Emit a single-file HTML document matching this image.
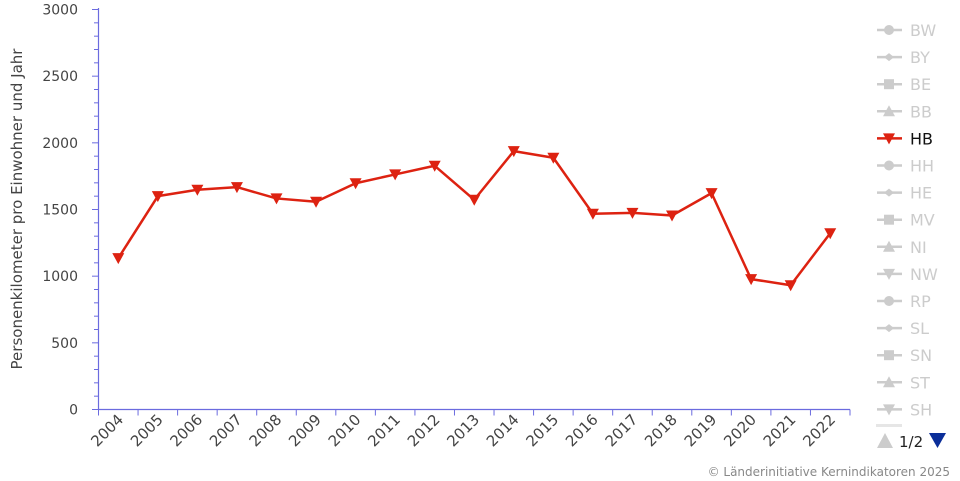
<!DOCTYPE html>
<html><head><meta charset="utf-8"><style>
html,body{margin:0;padding:0;background:#fff;width:960px;height:481px;overflow:hidden}
text{font-family:"DejaVu Sans","Liberation Sans",sans-serif}
</style></head><body>
<svg width="960" height="481" xmlns="http://www.w3.org/2000/svg">
<g id="ax"></g>
</svg>
<script>
const NS="http://www.w3.org/2000/svg",g=document.getElementById('ax');
function el(t,a,txt){const e=document.createElementNS(NS,t);for(const k in a)e.setAttribute(k,a[k]);if(txt!=null)e.textContent=txt;g.appendChild(e);return e;}
const X0=98.5,X1=850,Y0=409.5,H=400,ax="#6b6bdf";
const yv=v=>Y0-v/3000*H;
el('line',{x1:X0,y1:8,x2:X0,y2:Y0,stroke:ax,'stroke-width':1.2});
for(let v=0;v<=3000;v+=100){const y=yv(v);const maj=v%500==0;
 el('line',{x1:maj?92:94,y1:y,x2:X0,y2:y,stroke:ax,'stroke-width':1});
 if(maj)el('text',{x:78,y:y+5,'text-anchor':'end','font-size':14,fill:'#444'},v);}
el('text',{x:0,y:0,transform:'translate(22,209) rotate(-90)','text-anchor':'middle','font-size':15,fill:'#444'},'Personenkilometer pro Einwohner und Jahr');
el('line',{x1:X0,y1:Y0,x2:X1,y2:Y0,stroke:ax,'stroke-width':1.2});
const n=19,w=(X1-X0)/n;
for(let i=0;i<=n;i++){const x=X0+i*w;el('line',{x1:x,y1:Y0,x2:x,y2:Y0+6,stroke:ax,'stroke-width':1});}
const vals=[1135,1600,1648,1668,1583,1558,1697,1763,1828,1573,1938,1888,1468,1475,1455,1623,978,932,1322];
let pts=[];
vals.forEach((v,i)=>{const cx=X0+(i+0.5)*w;pts.push(cx+','+yv(v));
 el('text',{x:0,y:0,transform:`translate(${cx+6},${Y0+11}) rotate(-45)`,'text-anchor':'end','font-size':15,fill:'#444'},2004+i);});
el('polyline',{points:pts.join(' '),fill:'none',stroke:'#dd2211','stroke-width':2.5,'stroke-linejoin':'round'});
vals.forEach((v,i)=>{const cx=X0+(i+0.5)*w,y=yv(v);
 el('polygon',{points:`${cx-6},${y-5} ${cx+6},${y-5} ${cx},${y+6}`,fill:'#dd2211'});});
const names=['BW','BY','BE','BB','HB','HH','HE','MV','NI','NW','RP','SL','SN','ST','SH'];
const mk=['c','d','s','t','v'];
names.forEach((nm,i)=>{const y=30+i*27.1,hb=nm=='HB',c=hb?'#dd2211':'#ccc',m=mk[i%5],x=889;
 el('line',{x1:877,y1:y,x2:902,y2:y,stroke:c,'stroke-width':2.5});
 if(m=='c')el('circle',{cx:x,cy:y,r:5,fill:c});
 if(m=='d')el('polygon',{points:`${x-5},${y} ${x},${y-4} ${x+5},${y} ${x},${y+4}`,fill:c});
 if(m=='s')el('rect',{x:x-5,y:y-5,width:10,height:10,fill:c});
 if(m=='t')el('polygon',{points:`${x-6},${y+5} ${x+6},${y+5} ${x},${y-6}`,fill:c});
 if(m=='v')el('polygon',{points:`${x-6},${y-5} ${x+6},${y-5} ${x},${y+6}`,fill:c});
 el('text',{x:910,y:y+6,'font-size':16,fill:hb?'#111':'#ccc'},nm);});
el('rect',{x:876,y:424,width:26,height:3,fill:'#e6e6e6'});
el('polygon',{points:'877,448 893,448 885,433',fill:'#ccc'});
el('text',{x:899,y:447,'font-size':15,fill:'#222'},'1/2');
el('polygon',{points:'929,433 946,433 937.5,448',fill:'#0b2e99'});
el('text',{x:950,y:476,'text-anchor':'end','font-size':12,fill:'#888'},'© Länderinitiative Kernindikatoren 2025');
</script>
</body></html>
